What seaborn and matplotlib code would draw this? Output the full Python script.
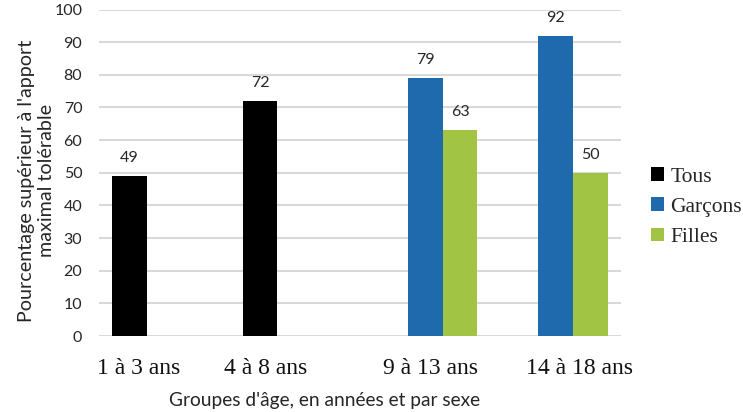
import pandas as pd
import numpy as np
import matplotlib
matplotlib.use('Agg')
import matplotlib.pyplot as plt
import matplotlib.transforms as mtransforms
import seaborn as sns

# Données
groupes = ['1 à 3 ans', '4 à 8 ans', '9 à 13 ans', '14 à 18 ans']
series = ['Tous', 'Garçons', 'Filles']
tous = [49, 72, None, None]
garcons = [None, None, 79, 92]
filles = [None, None, 63, 50]
couleurs = ['#000000', '#1f6aad', '#a2c444']

lignes = []
for serie, valeurs in zip(series, [tous, garcons, filles]):
    for g, v in zip(groupes, valeurs):
        if v is not None:
            lignes.append({'Groupe': g, 'Serie': serie, 'Valeur': v})
df = pd.DataFrame(lignes)

sns.set_style('white')
plt.rcParams['font.family'] = ['Lato', 'DejaVu Sans']

fig = plt.figure(figsize=(7.43, 4.12), dpi=100)
ax = fig.add_axes([99 / 743, 1 - 336 / 412, 522 / 743, 326.5 / 412])

sns.barplot(data=df, x='Groupe', y='Valeur', hue='Serie', order=groupes,
            hue_order=series, palette=couleurs, width=0.8, saturation=1,
            edgecolor='none', ax=ax, legend=True)

# étiquettes de valeurs au-dessus des barres
for cont in ax.containers:
    for barre in cont:
        h = barre.get_height()
        if np.isnan(h) or h == 0:
            continue
        ax.annotate(f'{h:.0f}', (barre.get_x() + barre.get_width() / 2, h),
                    xytext=(0, 8), textcoords='offset points',
                    ha='center', va='bottom', fontsize=11.5, color='#262626')

ax.set_ylim(0, 100)
ax.set_yticks(range(0, 101, 10))
ax.grid(axis='y', color='#d9d9d9', linewidth=1.5)
ax.set_axisbelow(True)
for s in ax.spines.values():
    s.set_visible(False)
ax.tick_params(axis='both', length=0)
ax.tick_params(axis='y', pad=12, labelsize=11.5, labelcolor='#262626')
ax.tick_params(axis='x', pad=16, labelsize=17, labelcolor='#111111',
               labelfontfamily='Liberation Serif')

# dans l'original les libellés ne sont pas centrés sous les groupes
decalages = [-18.7, -20.9, 3.6, 17.3]
for lab, dx in zip(ax.get_xticklabels(), decalages):
    lab.set_transform(lab.get_transform() +
                      mtransforms.ScaledTranslation(dx / 72, 0, fig.dpi_scale_trans))

ax.set_xlabel("Groupes d'âge, en années et par sexe", fontsize=13.8, color='#262626')
ax.xaxis.set_label_coords(0.433, -0.17)
ax.set_ylabel("Pourcentage supérieur à l'apport\nmaximal tolérable", fontsize=14.2,
              color='#262626', linespacing=1.25)
ax.yaxis.set_label_coords(-0.084, 0.475)

leg = ax.legend(loc='center left', bbox_to_anchor=(1.057, 0.395), frameon=False,
                prop={'family': 'Liberation Serif', 'size': 15.5},
                handlelength=0.6, handleheight=0.6, handletextpad=0.3,
                labelspacing=0.5, borderpad=0, borderaxespad=0)

fig.savefig('out.png', dpi=100)
